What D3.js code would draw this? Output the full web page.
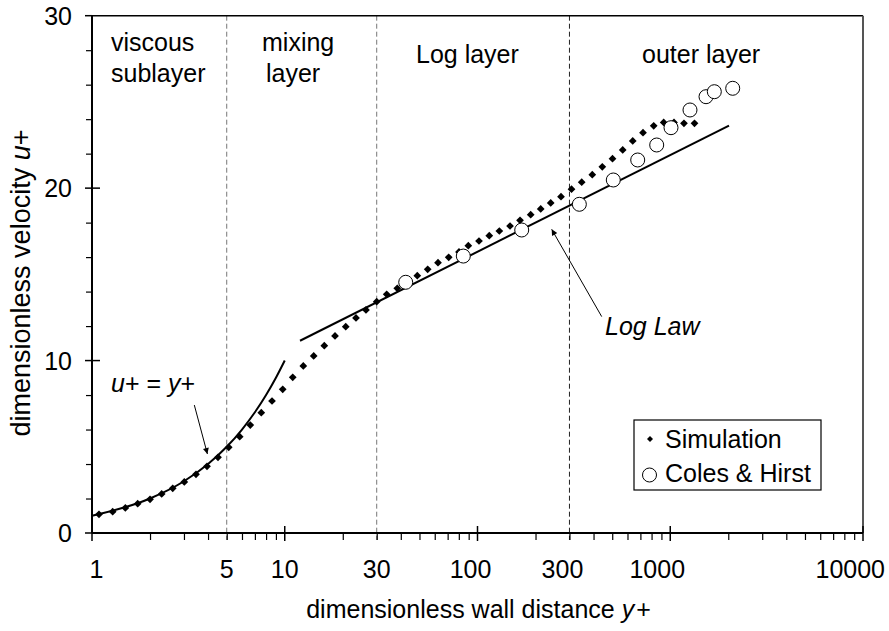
<!DOCTYPE html>
<html>
<head>
<meta charset="utf-8">
<script src="https://cdn.jsdelivr.net/npm/d3@7"></script>
<style>
  html, body { margin: 0; padding: 0; background: #fff; }
  svg { display: block; }
  text { font-family: "Liberation Sans", Arial, Helvetica, sans-serif; fill: #000; }
</style>
</head>
<body>
<svg id="chart" width="889" height="631"></svg>
<script>
// Turbulent boundary layer velocity profile (u+ vs y+)

// Simulation profile
const simYplus = [1.087, 1.28, 1.489, 1.726, 2.0, 2.299, 2.623, 3.012, 3.464, 3.951,
  4.505, 5.12, 5.838, 6.627, 7.555, 8.59, 9.759, 11.0, 12.48, 14.13,
  16.04, 18.23, 20.72, 23.42, 26.39, 29.99, 33.8, 38.35, 43.35, 48.71,
  55.15, 62.38, 70.89, 80.17, 89.61, 101.8, 115.1, 129.8, 147.5, 166.2,
  188.8, 212.8, 239.8, 271.2, 307.4, 347.2, 394.0, 444.1, 501.6, 566.7,
  638.7, 722.2, 820.7, 924.7, 1046, 1178, 1336];
const simUplus = [1.085, 1.235, 1.45, 1.699, 1.954, 2.262, 2.592, 2.958, 3.404, 3.868,
  4.39, 4.97, 5.585, 6.263, 6.977, 7.655, 8.334, 9.03, 9.685, 10.265,
  10.862, 11.425, 11.964, 12.469, 12.933, 13.414, 13.843, 14.191, 14.557, 14.922,
  15.293, 15.676, 15.989, 16.297, 16.662, 16.934, 17.242, 17.514, 17.804, 18.135,
  18.46, 18.79, 19.138, 19.504, 19.938, 20.345, 20.78, 21.238, 21.707, 22.212,
  22.734, 23.215, 23.615, 23.807, 23.807, 23.76, 23.76];

// Coles & Hirst measurements
const colesYplus = [42.42, 84.4, 169.6, 337.6, 506.4, 677.9, 850.6, 1009, 1266, 1533, 1693, 2109];
const colesUplus = [14.54, 16.06, 17.572, 19.063, 20.472, 21.632, 22.502, 23.505, 24.532, 25.303, 25.593, 25.79];

// Viscous sublayer law u+ = y+
const viscousYplus = [1, 2, 3, 4, 5, 6, 7, 8, 9, 10];
const viscousUplus = [1, 2, 3, 4, 5, 6, 7, 8, 9, 10];

// Log law segment end points
const logLawYplus = [12.0, 2018];
const logLawUplus = [11.15, 23.62];

// Axis ticks and region boundaries
const xTickLabels = [1, 5, 10, 30, 100, 300, 1000, 10000];
const xMajorTicks = [1, 10, 100, 1000, 10000];
const yTickLabels = [0, 10, 20, 30];
const regionBounds = [5, 30, 300];
const regionNames = [["viscous", "sublayer"], ["mixing", "layer"], ["Log layer"], ["outer layer"]];
const seriesNames = ["Simulation", "Coles & Hirst"];

const FONT = 25;
const svg = d3.select("#chart");

const x = d3.scaleLog().domain([1, 10000]).range([92, 863]);
const y = d3.scaleLinear().domain([0, 30]).range([533, 15.7]);
const [x0, x1] = x.range();
const [yb, yt] = y.range();

// Region boundaries (dashed)
svg.append("g").selectAll("line").data(regionBounds).join("line")
  .attr("x1", d => x(d)).attr("x2", d => x(d))
  .attr("y1", yt).attr("y2", yb + 7)
  .attr("stroke", (d, i) => i < 2 ? "#777" : "#222")
  .attr("stroke-width", 1)
  .attr("stroke-dasharray", "5,3");

// Frame: top and right edges
svg.append("line").attr("x1", x0).attr("x2", x1).attr("y1", yt).attr("y2", yt)
  .attr("stroke", "#000").attr("stroke-width", 1.5);
svg.append("line").attr("x1", x1).attr("x2", x1).attr("y1", yt).attr("y2", yb)
  .attr("stroke", "#555").attr("stroke-width", 2);

// X axis: minor ticks via d3 axis, then crossing major ticks
const minorX = [];
for (let p = 0; p < 4; p++) for (let k = 2; k <= 9; k++) minorX.push(k * Math.pow(10, p));
const gx = svg.append("g").attr("transform", `translate(0,${yb})`)
  .call(d3.axisBottom(x).tickValues(minorX).tickSize(7).tickFormat(""));
gx.select(".domain").remove();
gx.selectAll(".tick line").attr("stroke", "#000").attr("stroke-width", 1.2);
svg.append("g").selectAll("line").data(xMajorTicks).join("line")
  .attr("x1", d => x(d)).attr("x2", d => x(d))
  .attr("y1", yb - 7).attr("y2", yb + 8)
  .attr("stroke", "#000").attr("stroke-width", 1.5);
svg.append("line").attr("x1", x0).attr("x2", x1).attr("y1", yb).attr("y2", yb)
  .attr("stroke", "#000").attr("stroke-width", 2);

// X tick labels (hand-placed text boxes, slightly offset from their ticks)
const labelShift = { 1: 4.5, 100: -7, 300: -7, 1000: -13 };
svg.append("g").selectAll("text").data(xTickLabels).join("text")
  .attr("x", d => Math.min(x(d) + (labelShift[d] || 0), 889 - 4 - 0.278 * FONT * String(d).length))
  .attr("y", 578)
  .attr("text-anchor", "middle")
  .style("font-size", FONT + "px")
  .text(d => d);

// Y axis: minor ticks every 2, crossing major ticks every 10
const minorY = d3.range(0, 31, 2).filter(v => v % 10 !== 0);
const gy = svg.append("g").attr("transform", `translate(${x0},0)`)
  .call(d3.axisLeft(y).tickValues(minorY).tickSize(6).tickFormat(""));
gy.select(".domain").remove();
gy.selectAll(".tick line").attr("stroke", "#000").attr("stroke-width", 1.2);
svg.append("g").selectAll("line").data(yTickLabels).join("line")
  .attr("x1", x0 - 7).attr("x2", d => d === 30 ? x0 : x0 + 8)
  .attr("y1", d => y(d)).attr("y2", d => y(d))
  .attr("stroke", "#000").attr("stroke-width", 1.5);
svg.append("line").attr("x1", x0).attr("x2", x0).attr("y1", yt).attr("y2", yb)
  .attr("stroke", "#000").attr("stroke-width", 2);
svg.append("g").selectAll("text").data(yTickLabels).join("text")
  .attr("x", 72).attr("y", d => y(d)).attr("dy", "0.36em")
  .attr("text-anchor", "end")
  .style("font-size", FONT + "px")
  .text(d => d);

// Axis titles
const xt = svg.append("text").attr("x", (x0 + x1) / 2 + 1).attr("y", 618)
  .attr("text-anchor", "middle").style("font-size", FONT + "px");
xt.append("tspan").text("dimensionless wall distance ");
xt.append("tspan").style("font-style", "italic").text("y");
xt.append("tspan").attr("dx", 2).text("+");

const yTitle = svg.append("text")
  .attr("transform", "translate(30,283) rotate(-90)")
  .attr("text-anchor", "middle").style("font-size", "27px");
yTitle.append("tspan").text("dimensionless velocity ");
yTitle.append("tspan").style("font-style", "italic").text("u");
yTitle.append("tspan").text("+");

// Region labels
const regionPos = [[111, 51], [262, 51], [416, 63], [642, 63]];
const regionG = svg.append("g").style("font-size", FONT + "px");
regionNames.forEach((lines, i) => {
  lines.forEach((s, j) => {
    regionG.append("text")
      .attr("x", regionPos[i][0] + (i === 1 && j === 1 ? 4 : 0))
      .attr("y", regionPos[i][1] + j * 31)
      .text(s);
  });
});

// Theory lines
svg.append("path")
  .datum(d3.zip(viscousYplus, viscousUplus))
  .attr("d", d3.line().x(d => x(d[0])).y(d => y(d[1])).curve(d3.curveMonotoneX))
  .attr("fill", "none").attr("stroke", "#000").attr("stroke-width", 2);
svg.append("path")
  .datum(d3.zip(logLawYplus, logLawUplus))
  .attr("d", d3.line().x(d => x(d[0])).y(d => y(d[1])))
  .attr("fill", "none").attr("stroke", "#000").attr("stroke-width", 2);

// Simulation markers (diamonds)
const diamond = d3.symbol(d3.symbolSquare, 30);
svg.append("g").selectAll("path").data(d3.zip(simYplus, simUplus)).join("path")
  .attr("d", diamond)
  .attr("transform", d => `translate(${x(d[0])},${y(d[1])}) rotate(45)`)
  .attr("fill", "#000");

// Coles & Hirst markers (open circles)
svg.append("g").selectAll("circle").data(d3.zip(colesYplus, colesUplus)).join("circle")
  .attr("cx", d => x(d[0])).attr("cy", d => y(d[1])).attr("r", 7)
  .attr("fill", "#fff").attr("stroke", "#000").attr("stroke-width", 1);

// Annotations with arrows
const defs = svg.append("defs");
defs.append("marker").attr("id", "arrow").attr("viewBox", "0 0 10 10")
  .attr("refX", 10).attr("refY", 5).attr("markerWidth", 10).attr("markerHeight", 6)
  .attr("markerUnits", "userSpaceOnUse").attr("orient", "auto")
  .append("path").attr("d", "M0,0 L10,5 L0,10 Z").attr("fill", "#000");

function arrow(from, to) {
  svg.append("line")
    .attr("x1", x(from[0])).attr("y1", y(from[1]))
    .attr("x2", x(to[0])).attr("y2", y(to[1]))
    .attr("stroke", "#000").attr("stroke-width", 1)
    .attr("marker-end", "url(#arrow)");
}
arrow([3.395, 7.42], [3.97, 4.58]);
arrow([440.9, 12.55], [242.6, 17.61]);

const vLabel = svg.append("text").attr("x", x(1.255)).attr("y", y(8.18))
  .style("font-size", FONT + "px");
vLabel.append("tspan").style("font-style", "italic").text("u");
vLabel.append("tspan").text("+ = ");
vLabel.append("tspan").style("font-style", "italic").text("y");
vLabel.append("tspan").text("+");

svg.append("text").attr("x", x(458.6)).attr("y", y(11.48))
  .style("font-size", FONT + "px").style("font-style", "italic")
  .text("Log Law");

// Legend
const lg = svg.append("g").attr("transform", "translate(634,420)");
lg.append("rect").attr("width", 187).attr("height", 70)
  .attr("fill", "#fff").attr("stroke", "#000").attr("stroke-width", 1.2);
lg.append("path").attr("d", d3.symbol(d3.symbolSquare, 18))
  .attr("transform", "translate(16,19) rotate(45)").attr("fill", "#000");
lg.append("circle").attr("cx", 15.5).attr("cy", 55).attr("r", 7)
  .attr("fill", "#fff").attr("stroke", "#000").attr("stroke-width", 1);
lg.selectAll("text.lab").data(seriesNames).join("text").attr("class", "lab")
  .attr("x", 31).attr("y", (d, i) => 27.5 + i * 34.5)
  .style("font-size", FONT + "px")
  .text(d => d);
</script>
</body>
</html>
